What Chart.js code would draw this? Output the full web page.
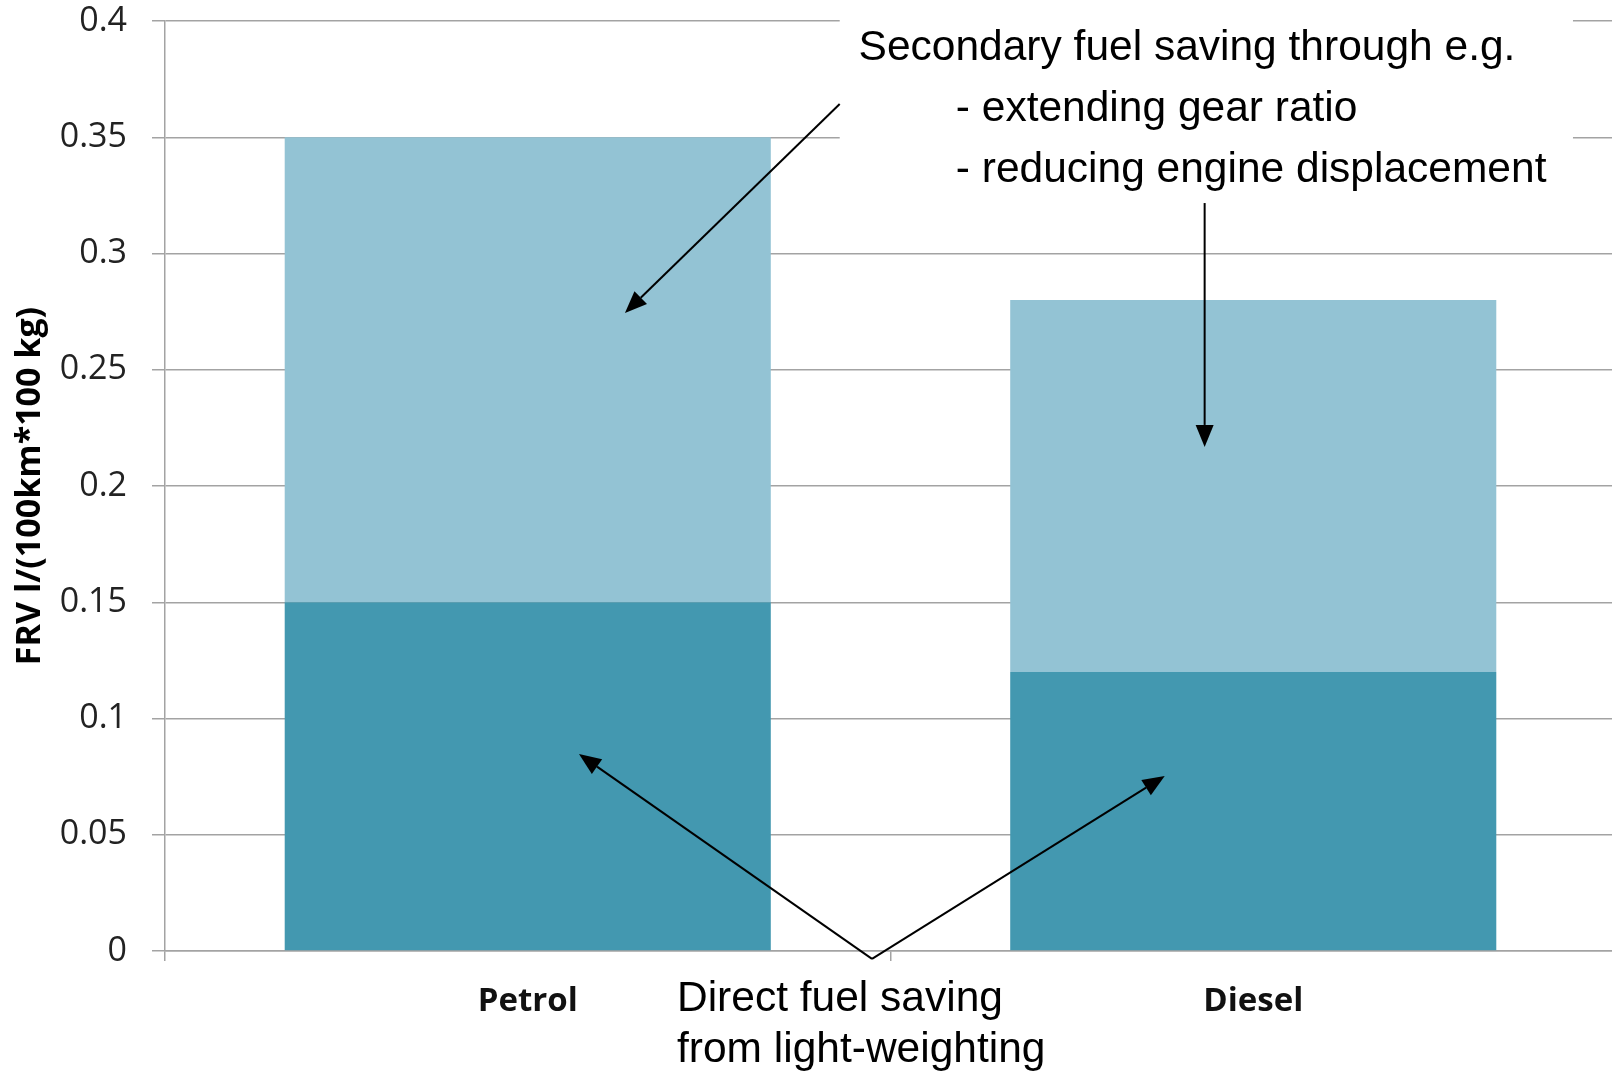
<!DOCTYPE html>
<html>
<head>
<meta charset="utf-8">
<script src="https://cdn.jsdelivr.net/npm/chart.js@4.4.0/dist/chart.umd.min.js"></script>
<style>
  html, body { margin: 0; padding: 0; background: #fff; overflow: hidden; }
</style>
</head>
<body>
<canvas id="fuelChart" width="1616" height="1071"></canvas>
<script>
const categories = ['Petrol', 'Diesel'];
const directSaving = [0.15, 0.12];
const secondarySaving = [0.20, 0.16];
const yTicks = [0, 0.05, 0.1, 0.15, 0.2, 0.25, 0.3, 0.35, 0.4];

const secondaryText = ['Secondary fuel saving through e.g.', '- extending gear ratio', '- reducing engine displacement'];
const directText = ['Direct fuel saving', 'from light-weighting'];

// annotation anchors: x in category index units, y in axis units
const secondaryTextX = [0.456, 0.590, 0.590];
const secondaryTextY = [0.3832, 0.357, 0.3307];
const secondaryBoxX = [0.430, 1.4407];
const secondaryBoxY = [0.323, 0.42];
const directTextX = 0.2057;
const directTextY = [-0.0258, -0.0478];
const arrowSecondaryPetrol = [[0.430, 0.3643], [0.134, 0.2744]];
const arrowSecondaryDiesel = [[0.933, 0.3217], [0.933, 0.2168]];
const arrowDirectVertex = [0.4745, -0.0034];
const arrowDirectTips = [[0.0706, 0.0847], [0.878, 0.0753]];

const gridColor = '#A3A3A3';

function drawArrow(ctx, x1, y1, x2, y2) {
    const a = Math.atan2(y2 - y1, x2 - x1);
    const head = 22, half = 9;
    const bx = x2 - head * Math.cos(a), by = y2 - head * Math.sin(a);
    ctx.beginPath();
    ctx.moveTo(x1, y1);
    ctx.lineTo(bx, by);
    ctx.stroke();
    ctx.beginPath();
    ctx.moveTo(x2, y2);
    ctx.lineTo(bx + half * Math.sin(a), by - half * Math.cos(a));
    ctx.lineTo(bx - half * Math.sin(a), by + half * Math.cos(a));
    ctx.closePath();
    ctx.fill();
}

const annotationPlugin = {
    id: 'annotations',
    afterDraw(chart) {
        const { ctx, scales: { x, y } } = chart;
        const px = v => x.getPixelForValue(v);
        const py = v => y.getPixelForValue(v);
        ctx.save();

        // white box behind the top text
        ctx.fillStyle = '#fff';
        ctx.fillRect(px(secondaryBoxX[0]), py(secondaryBoxY[1]),
            px(secondaryBoxX[1]) - px(secondaryBoxX[0]), py(secondaryBoxY[0]) - py(secondaryBoxY[1]));

        ctx.fillStyle = '#000';
        ctx.font = '42.5px "Liberation Sans", Arial, sans-serif';
        ctx.textBaseline = 'alphabetic';
        ctx.textAlign = 'left';
        secondaryText.forEach((t, i) => ctx.fillText(t, px(secondaryTextX[i]), py(secondaryTextY[i])));
        directText.forEach((t, i) => ctx.fillText(t, px(directTextX), py(directTextY[i])));

        ctx.strokeStyle = '#000';
        ctx.lineWidth = 2;
        [arrowSecondaryPetrol, arrowSecondaryDiesel].forEach(([s, e]) => {
            drawArrow(ctx, px(s[0]), py(s[1]), px(e[0]), py(e[1]));
        });
        arrowDirectTips.forEach(tip => {
            drawArrow(ctx, px(arrowDirectVertex[0]), py(arrowDirectVertex[1]), px(tip[0]), py(tip[1]));
        });
        ctx.restore();
    }
};

const ctx = document.getElementById('fuelChart').getContext('2d');
new Chart(ctx, {
    type: 'bar',
    data: {
        labels: categories,
        datasets: [{
            label: 'Direct fuel saving',
            data: directSaving,
            backgroundColor: '#4398B0',
            borderWidth: 0,
            barPercentage: 0.67,
            categoryPercentage: 1
        }, {
            label: 'Secondary fuel saving',
            data: secondarySaving,
            backgroundColor: '#93C3D4',
            borderWidth: 0,
            barPercentage: 0.67,
            categoryPercentage: 1
        }]
    },
    options: {
        responsive: false,
        animation: false,
        devicePixelRatio: 1,
        layout: {
            padding: { top: 0, right: 0, left: 0, bottom: 0 }
        },
        plugins: {
            legend: { display: false },
            tooltip: { enabled: false }
        },
        scales: {
            x: {
                stacked: true,
                grid: {
                    display: true,
                    drawOnChartArea: false,
                    drawTicks: true,
                    tickLength: 10,
                    offset: true,
                    color: gridColor,
                    lineWidth: 1.5
                },
                border: { display: true, color: gridColor, width: 1.5 },
                ticks: {
                    color: '#111',
                    padding: 21,
                    font: { family: "'Open Sans', sans-serif", size: 33, weight: 'bold' }
                },
                afterFit: s => { s.height = 120; }
            },
            y: {
                stacked: true,
                min: 0,
                max: 0.4,
                afterBuildTicks: s => { s.ticks = yTicks.map(v => ({ value: v })); },
                grid: {
                    color: gridColor,
                    lineWidth: 1.5,
                    tickLength: 13
                },
                border: { display: true, color: gridColor, width: 1.5 },
                ticks: {
                    color: '#222',
                    padding: 25,
                    font: { family: "'Open Sans', sans-serif", size: 34 },
                    callback: v => String(v)
                },
                title: {
                    display: true,
                    text: 'FRV l/(100km*100 kg)',
                    color: '#000',
                    font: { family: "'Open Sans', sans-serif", size: 34, weight: 'bold' },
                    padding: { top: 10, bottom: 0 }
                },
                afterFit: s => {
                    s.width = 165;
                    s.paddingTop = 21;
                }
            }
        }
    },
    plugins: [annotationPlugin]
});
</script>
</body>
</html>
